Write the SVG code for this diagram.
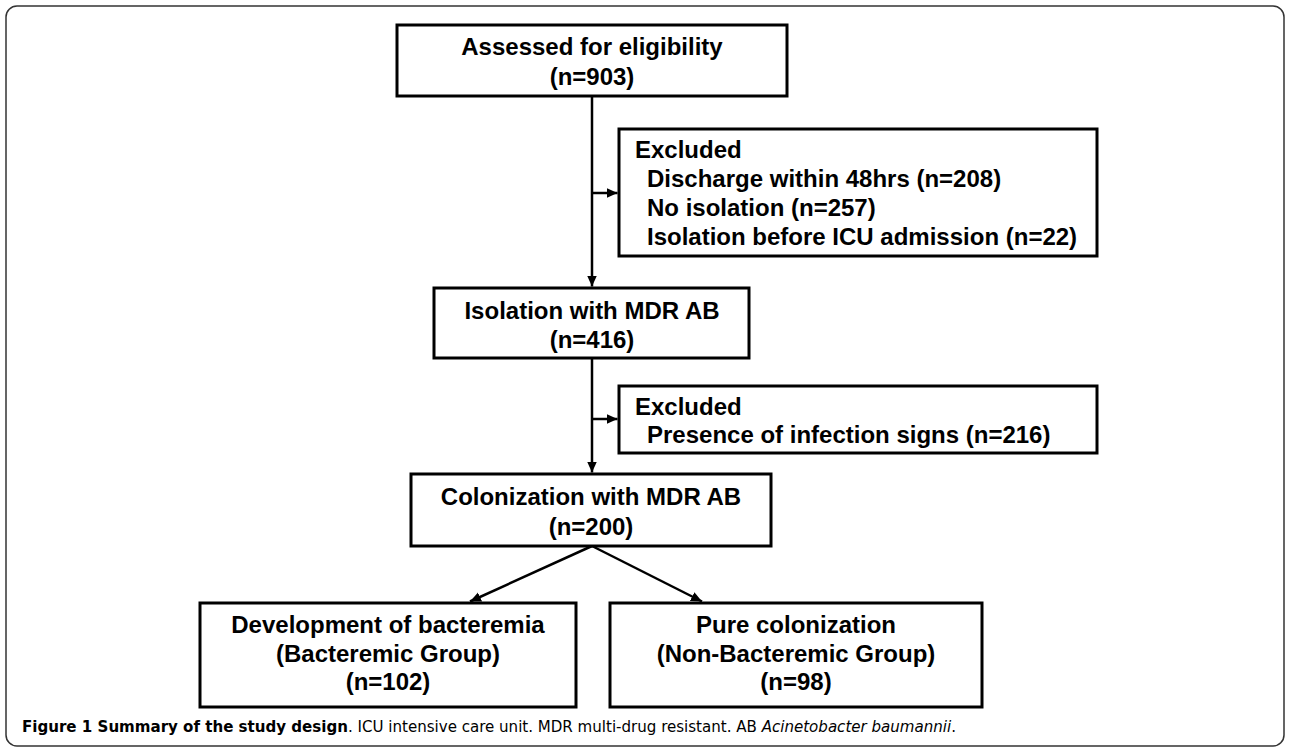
<svg xmlns="http://www.w3.org/2000/svg" width="1290" height="748" viewBox="0 0 1290 748">
<style>
.box{fill:#fff;stroke:#000;stroke-width:3}
.t{font-family:"Liberation Sans",Arial,sans-serif;font-weight:bold;font-size:24px;fill:#000}
.c{text-anchor:middle}
.con{stroke:#000;stroke-width:2.5;fill:none}
.cap{font-family:"Liberation Sans Narrow","DejaVu Sans Condensed","Liberation Sans",sans-serif;font-size:16px;fill:#000}
</style>
<defs>
<marker id="ah" viewBox="0 0 10 10" refX="10" refY="5" markerWidth="11" markerHeight="11" markerUnits="userSpaceOnUse" orient="auto">
<path d="M0,0.5 L10,5 L0,9.5 z" fill="#000"/>
</marker>
</defs>
<rect x="6" y="6" width="1278" height="740" rx="11" fill="#fff" stroke="#333" stroke-width="1.5"/>
<g id="connectors">
<line class="con" x1="592" y1="96" x2="592" y2="286.5" marker-end="url(#ah)"/>
<line class="con" x1="592" y1="193" x2="617.5" y2="193" marker-end="url(#ah)"/>
<line class="con" x1="592" y1="358" x2="592" y2="472.5" marker-end="url(#ah)"/>
<line class="con" x1="592" y1="419" x2="617.5" y2="419" marker-end="url(#ah)"/>
<line class="con" x1="592" y1="546" x2="470" y2="601.5" marker-end="url(#ah)"/>
<line class="con" x1="592" y1="546" x2="702" y2="601.5" marker-end="url(#ah)"/>
</g>
<g id="assessed">
<rect class="box" x="397" y="25" width="390" height="71"/>
<text class="t c" x="592" y="55">Assessed for eligibility</text>
<text class="t c" x="592" y="85">(n=903)</text>
</g>
<g id="excluded1">
<rect class="box" x="619" y="129" width="478" height="127"/>
<text class="t" x="635" y="158">Excluded</text>
<text class="t" x="647" y="187">Discharge within 48hrs (n=208)</text>
<text class="t" x="647" y="216">No isolation (n=257)</text>
<text class="t" x="647" y="245">Isolation before ICU admission (n=22)</text>
</g>
<g id="isolation">
<rect class="box" x="434" y="288" width="315" height="70"/>
<text class="t c" x="592" y="319">Isolation with MDR AB</text>
<text class="t c" x="592" y="348">(n=416)</text>
</g>
<g id="excluded2">
<rect class="box" x="619" y="386" width="478" height="67"/>
<text class="t" x="635" y="415">Excluded</text>
<text class="t" x="647" y="443">Presence of infection signs (n=216)</text>
</g>
<g id="colonization">
<rect class="box" x="411" y="474" width="360" height="72"/>
<text class="t c" x="591" y="505">Colonization with MDR AB</text>
<text class="t c" x="591" y="535">(n=200)</text>
</g>
<g id="bacteremic">
<rect class="box" x="200" y="603" width="376" height="104"/>
<text class="t c" x="388" y="633">Development of bacteremia</text>
<text class="t c" x="388" y="662">(Bacteremic Group)</text>
<text class="t c" x="388" y="690">(n=102)</text>
</g>
<g id="nonbacteremic">
<rect class="box" x="610" y="603" width="372" height="104"/>
<text class="t c" x="796" y="633">Pure colonization</text>
<text class="t c" x="796" y="662">(Non-Bacteremic Group)</text>
<text class="t c" x="796" y="690">(n=98)</text>
</g>
<text class="cap" x="22" y="732" textLength="934" lengthAdjust="spacingAndGlyphs"><tspan font-weight="bold">Figure 1 Summary of the study design</tspan>. ICU intensive care unit. MDR multi-drug resistant. AB <tspan font-style="italic">Acinetobacter baumannii</tspan>.</text>
</svg>
